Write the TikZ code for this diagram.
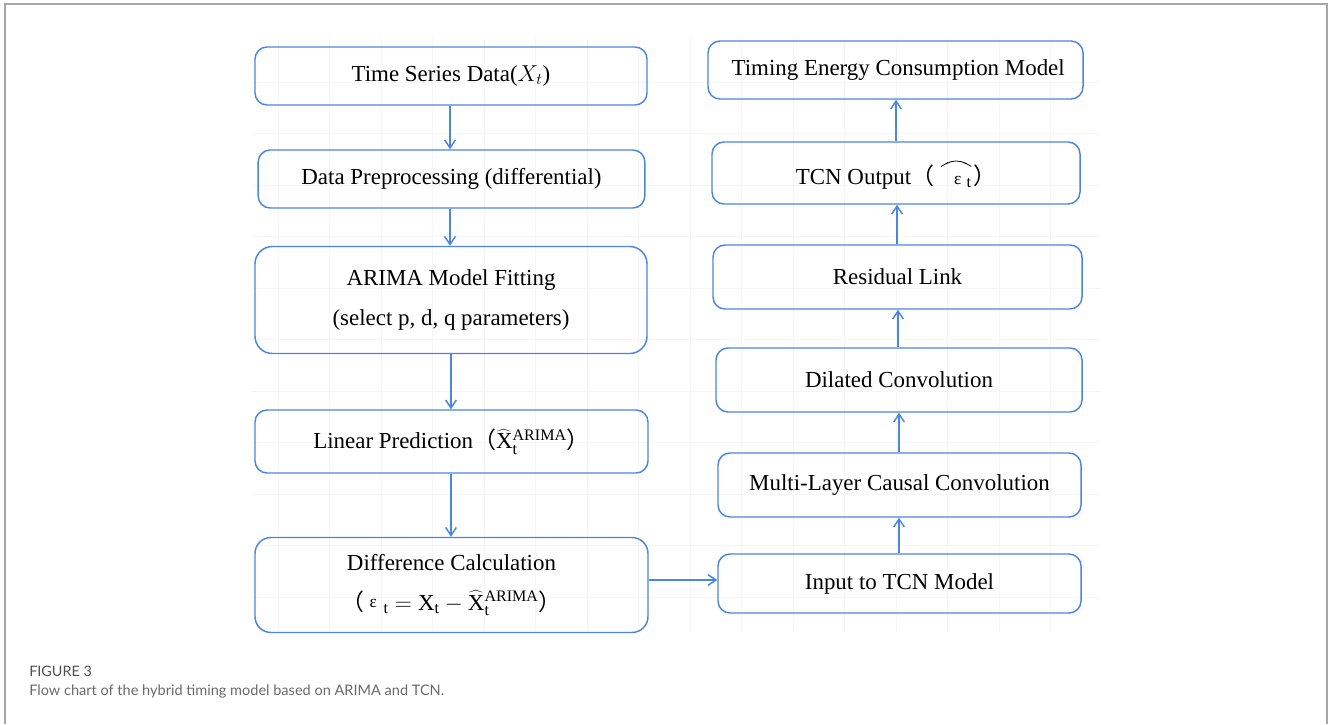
\documentclass[tikz,border=0pt]{standalone}
\usepackage{fontspec}
\setmainfont{Liberation Serif}
\newfontfamily\cjk{Noto Sans CJK SC}
\newfontfamily\capfont{Lato}
\usetikzlibrary{arrows.meta}
\definecolor{bblue}{HTML}{4A86E0}
\definecolor{capgray}{HTML}{505050}
\definecolor{capgray2}{HTML}{6A6A6A}
\tikzset{
  box/.style={draw=bblue, line width=1.1pt, rounded corners=9pt, inner sep=0pt,
    align=center, font=\fontsize{17.2}{30}\selectfont, text=black},
  flow/.style={draw=bblue, line width=1.1pt, -{Straight Barb[length=6pt,width=8pt]}},
  gridline/.style={draw=black!3.5, line width=0.7pt},
}
\newcommand{\smeps}{{\fontsize{13}{13}\selectfont ε}}
\newcommand{\bighat}{\rlap{\tikz[x=1pt,y=1pt,baseline=0pt]\draw[line width=0.6pt,black,line join=round] (0,13.5) .. controls (6,17) .. (11.25,20.5) .. controls (16.5,17) .. (22.5,13.5);}}
\begin{document}
\begin{tikzpicture}[x=0.75pt,y=-0.75pt]
\useasboundingbox (0,0) rectangle (1330,724);
% frame
\draw[draw=black!35, line width=0.8pt] (5,724) -- (5,4) -- (1327,4) -- (1327,724);
% faint grid
\foreach \k in {0,...,15} \draw[gridline] ({278+51.5*\k},37) -- ({278+51.5*\k},632);
\foreach \k in {0,...,10} \draw[gridline] (252,{82+51.5*\k}) -- (1100,{82+51.5*\k});
% left column
\node[box, minimum width=294pt, minimum height=43.5pt] (ts) at (451,76) {Time Series Data($X_t$)};
\node[box, minimum width=290pt, minimum height=43.5pt] (pre) at (451.5,179) {Data Preprocessing (differential)};
\node[box, minimum width=294pt, minimum height=80.25pt, rounded corners=13pt] (arima) at (451,300) {ARIMA Model Fitting\\(select p, d, q parameters)};
\node[box, minimum width=294.75pt, minimum height=47.25pt] (lin) at (451.5,441.5) {Linear Prediction{\cjk （}$\widehat{\mathrm{X}}_{\mathrm{t}}^{\mathrm{ARIMA}}${\cjk ）}};
\node[box, minimum width=294.75pt, minimum height=71.25pt, rounded corners=12pt] (diff) at (451.5,585) {Difference Calculation\\{\cjk （}\hspace{4pt}\raisebox{2pt}{\smeps}\hspace{5pt}$_{\mathrm{t}}=\mathrm{X}_{\mathrm{t}}-\widehat{\mathrm{X}}_{\mathrm{t}}^{\mathrm{ARIMA}}${\cjk ）}};
% right column
\node[box, minimum width=281.25pt, minimum height=43.5pt] (tec) at (895.5,70) {\hspace*{4pt}Timing Energy Consumption Model};
\node[box, minimum width=276pt, minimum height=46.5pt] (out) at (896,173) {TCN Output{\cjk （}\hspace{5pt}\bighat\hspace{10pt}\smeps\hspace{4pt}$_{\mathrm{t}}$\hspace{1pt}{\cjk ）}};
\node[box, minimum width=276.75pt, minimum height=48pt] (res) at (897.5,277) {Residual Link};
\node[box, minimum width=274.5pt, minimum height=48pt] (dil) at (899,380) {Dilated Convolution};
\node[box, minimum width=272.25pt, minimum height=48pt] (mlc) at (899.5,485) {Multi-Layer Causal Convolution};
\node[box, minimum width=272.25pt, minimum height=44.25pt] (inp) at (899.5,583.5) {Input to TCN Model};
% connectors
\draw[flow] (ts.south -| 450,0) -- (pre.north -| 450,0);
\draw[flow] (pre.south -| 450,0) -- (arima.north -| 450,0);
\draw[flow] (arima.south -| 451,0) -- (lin.north -| 451,0);
\draw[flow] (lin.south -| 451,0) -- (diff.north -| 451,0);
\draw[flow] (diff.east |- 0,580) -- (inp.west |- 0,580);
\draw[flow] (inp.north -| 899,0) -- (mlc.south -| 899,0);
\draw[flow] (mlc.north -| 899,0) -- (dil.south -| 899,0);
\draw[flow] (dil.north -| 898,0) -- (res.south -| 898,0);
\draw[flow] (res.north -| 897,0) -- (out.south -| 897,0);
\draw[flow] (out.north -| 896,0) -- (tec.south -| 896,0);
% caption
\node[anchor=base west, inner sep=0pt, text=capgray, font=\capfont\fontsize{10.8}{11}\selectfont] (figlab) at (29,676) {FIGURE 3};
\node[anchor=base west, inner sep=0pt, text=capgray2, font=\capfont\fontsize{10.9}{12}\selectfont] (cap) at (29,695.5) {Flow chart of the hybrid timing model based on ARIMA and TCN.};
\end{tikzpicture}
\end{document}
